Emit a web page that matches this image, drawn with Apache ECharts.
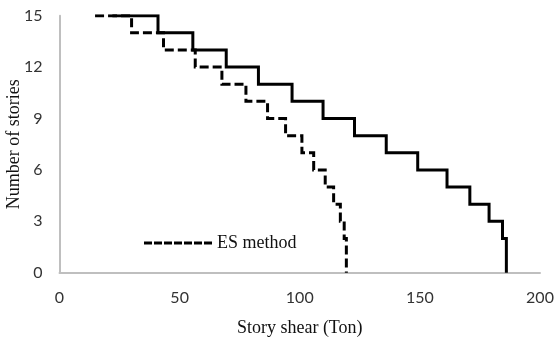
<!DOCTYPE html>
<html>
<head>
<meta charset="utf-8">
<script src="https://cdn.jsdelivr.net/npm/echarts@6/dist/echarts.min.js"></script>
<style>
  html, body { margin: 0; padding: 0; background: #fff; }
  #chart { width: 557px; height: 340px; }
</style>
</head>
<body>
<div id="chart"></div>
<script>
// Stories from the roof (15) down to the first floor (1)
const stories = [15, 14, 13, 12, 11, 10, 9, 8, 7, 6, 5, 4, 3, 2, 1];

// Story shear (Ton) per story, equivalent static method (dashed)
const esShear = [30.0, 43.3, 56.5, 67.6, 77.6, 86.6, 94.1, 100.9, 105.8, 110.6, 114.1, 116.9, 118.5, 119.4, 119.4];
const esRoofStart = 14.8;

// Story shear (Ton) per story, second analysis (solid)
const otherShear = [41.0, 55.5, 69.4, 82.8, 96.8, 109.7, 122.8, 136.0, 149.1, 161.3, 170.8, 178.8, 184.4, 186.0, 186.0];
const otherRoofStart = 22;

const xTicks = [0, 50, 100, 150, 200];
const yTicks = [0, 3, 6, 9, 12, 15];

// Staircase profile: horizontal run at each story level, then a drop to the level below
function stairs(start, shear) {
  const pts = [[start, stories[0]]];
  stories.forEach((s, i) => {
    pts.push([shear[i], s]);
    pts.push([shear[i], s - 1]);
  });
  return pts;
}

// Legend key drawn as a short row of dashes
const dashIcon = 'path://' + Array.from({ length: 7 }, (_, i) =>
  'M' + (i * 10) + ',0h8v3h-8z').join(' ');

const chart = echarts.init(document.getElementById('chart'), null, { renderer: 'canvas' });

const tickFont = { fontFamily: 'Lato', fontSize: 16, color: '#333' };
const titleFont = { fontFamily: 'Liberation Serif', fontSize: 18, color: '#111' };

chart.setOption({
  animation: false,
  grid: { left: 59.5, right: 17, top: 15.7, bottom: 67.3, outerBoundsMode: 'none', containLabel: false },
  xAxis: {
    type: 'value',
    min: xTicks[0], max: xTicks[xTicks.length - 1], interval: 50,
    splitLine: { show: false },
    axisTick: { show: false },
    axisLine: { lineStyle: { color: '#bfbfbf', width: 2 } },
    axisLabel: Object.assign({ margin: 17 }, tickFont),
    name: 'Story shear (Ton)',
    nameLocation: 'middle',
    nameGap: 47,
    nameMoveOverlap: false,
    nameTextStyle: titleFont
  },
  yAxis: {
    type: 'value',
    min: yTicks[0], max: yTicks[yTicks.length - 1], interval: 3,
    splitLine: { show: false },
    axisTick: { show: false },
    axisLine: { show: true, lineStyle: { color: '#bfbfbf', width: 2 } },
    axisLabel: Object.assign({ margin: 17 }, tickFont),
    name: 'Number of stories',
    nameLocation: 'middle',
    nameGap: 36,
    nameMoveOverlap: false,
    nameTextStyle: titleFont
  },
  legend: {
    data: [{ name: 'ES method', icon: dashIcon }],
    left: 139, top: 229,
    itemWidth: 68, itemHeight: 3, itemGap: 6,
    textStyle: { fontFamily: 'Liberation Serif', fontSize: 18, color: '#111' }
  },
  series: [
    {
      name: 'Other method',
      type: 'line',
      data: stairs(otherRoofStart, otherShear),
      symbol: 'none',
      itemStyle: { color: '#000' },
      lineStyle: { color: '#000', width: 3, join: 'miter' },
      z: 2
    },
    {
      name: 'ES method',
      type: 'line',
      data: stairs(esRoofStart, esShear),
      symbol: 'none',
      itemStyle: { color: '#000' },
      lineStyle: { color: '#000', width: 3, type: [9, 4], join: 'miter' },
      z: 3
    }
  ]
});
</script>
</body>
</html>
